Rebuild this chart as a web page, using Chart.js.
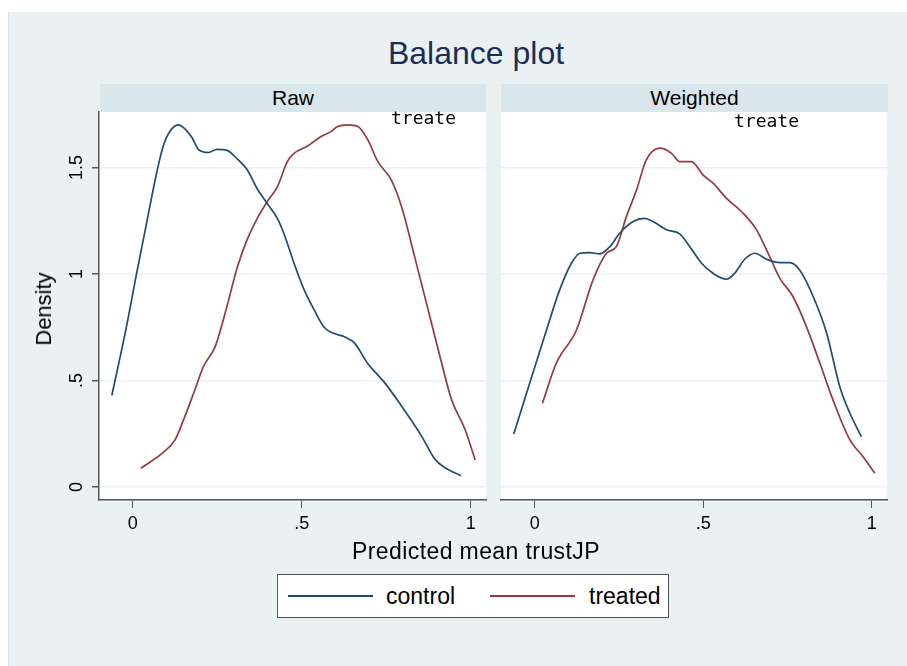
<!DOCTYPE html>
<html>
<head>
<meta charset="utf-8">
<script src="https://cdn.jsdelivr.net/npm/chart.js@4.4.0/dist/chart.umd.min.js"></script>
<style>
    body { margin: 0; background: #fff; font-family: "Liberation Sans", Arial, sans-serif; }
    #page { position: absolute; left: 8px; top: 12px; width: 899px; height: 654px; background: #e9f1f3; border-left: 1px solid #d3e2ec; }
    .abs { position: absolute; }
    #title { left: 0; top: 35px; width: 952px; text-align: center; font-size: 32px; color: #1c2e57; }
    .strip { top: 84px; height: 28px; background: #d9e6eb; text-align: center; font-size: 21px; line-height: 28px; color: #000; }
    .note { font-family: "DejaVu Sans Mono", monospace; font-size: 18px; color: #000; }
    #ytitle { left: 44px; top: 309px; font-size: 22px; transform: translate(-50%, -50%) rotate(-90deg); white-space: nowrap; }
    #xtitle { left: 0; top: 538px; width: 952px; text-align: center; font-size: 23px; letter-spacing: 0.4px; }
    #legend { left: 277px; top: 574px; width: 390px; height: 42px; background: #fff; border: 1px solid #555; }
    .lgline { position: absolute; top: 20px; height: 2px; width: 85px; }
    .lgtext { position: absolute; top: 8px; font-size: 23px; }
</style>
</head>
<body>
<div id="page"></div>
<div id="title" class="abs">Balance plot</div>
<div class="abs strip" style="left:100px;width:386px;">Raw</div>
<div class="abs strip" style="left:501px;width:387px;">Weighted</div>
<canvas id="raw" class="abs" width="495" height="440" style="left:0;top:100px;"></canvas>
<canvas id="wt" class="abs" width="412" height="440" style="left:495px;top:100px;"></canvas>
<div class="abs note" style="left:391px;top:107px;">treate</div>
<div class="abs note" style="left:734px;top:110px;">treate</div>
<div id="ytitle" class="abs">Density</div>
<div id="xtitle" class="abs">Predicted mean trustJP</div>
<div id="legend" class="abs">
    <div class="lgline" id="lg1" style="left:10px;"></div>
    <div class="lgtext" style="left:108px;">control</div>
    <div class="lgline" id="lg2" style="left:212px;"></div>
    <div class="lgtext" style="left:311px;">treated</div>
</div>
<script>
// density curves
var rawControlX = [-0.062, -0.019, 0.011, 0.041, 0.070, 0.090, 0.110, 0.135, 0.155, 0.175, 0.194, 0.224, 0.249, 0.279, 0.309, 0.338, 0.368, 0.398, 0.428, 0.447, 0.477, 0.507, 0.537, 0.566, 0.596, 0.626, 0.656, 0.695, 0.745, 0.795, 0.854, 0.894, 0.924, 0.971];
var rawControlY = [0.43, 0.75, 1.00, 1.24, 1.47, 1.60, 1.67, 1.70, 1.68, 1.64, 1.585, 1.57, 1.585, 1.58, 1.54, 1.49, 1.40, 1.33, 1.26, 1.19, 1.05, 0.925, 0.83, 0.75, 0.72, 0.705, 0.675, 0.58, 0.49, 0.38, 0.24, 0.13, 0.09, 0.053];

var rawTreatedX = [0.024, 0.090, 0.125, 0.150, 0.180, 0.209, 0.244, 0.279, 0.309, 0.338, 0.368, 0.398, 0.428, 0.457, 0.477, 0.517, 0.557, 0.586, 0.606, 0.636, 0.666, 0.695, 0.725, 0.765, 0.795, 0.834, 0.874, 0.914, 0.943, 0.983, 1.013];
var rawTreatedY = [0.088, 0.163, 0.221, 0.315, 0.44, 0.565, 0.66, 0.85, 1.03, 1.16, 1.26, 1.34, 1.41, 1.527, 1.566, 1.60, 1.645, 1.668, 1.692, 1.70, 1.692, 1.63, 1.527, 1.44, 1.316, 1.08, 0.83, 0.58, 0.41, 0.27, 0.127];

var wtControlX = [-0.062, -0.015, 0.035, 0.074, 0.109, 0.134, 0.163, 0.193, 0.223, 0.252, 0.292, 0.326, 0.351, 0.391, 0.430, 0.460, 0.495, 0.529, 0.569, 0.593, 0.623, 0.653, 0.688, 0.727, 0.757, 0.786, 0.826, 0.866, 0.905, 0.935, 0.969];
var wtControlY = [0.249, 0.487, 0.737, 0.925, 1.05, 1.097, 1.10, 1.094, 1.128, 1.191, 1.246, 1.261, 1.246, 1.207, 1.188, 1.128, 1.05, 1.003, 0.975, 1.003, 1.069, 1.097, 1.069, 1.053, 1.053, 1.019, 0.894, 0.722, 0.471, 0.346, 0.236];

var wtTreatedX = [0.023, 0.064, 0.124, 0.173, 0.213, 0.242, 0.272, 0.302, 0.331, 0.371, 0.406, 0.430, 0.465, 0.499, 0.529, 0.569, 0.618, 0.658, 0.697, 0.727, 0.766, 0.806, 0.846, 0.885, 0.935, 0.974, 1.009];
var wtTreatedY = [0.393, 0.581, 0.737, 0.972, 1.097, 1.128, 1.269, 1.394, 1.535, 1.590, 1.566, 1.527, 1.527, 1.465, 1.426, 1.355, 1.285, 1.207, 1.081, 0.98, 0.894, 0.753, 0.581, 0.408, 0.221, 0.142, 0.064];

var xTickVals = [0, 0.5, 1];
var xTickLabels = ['0', '.5', '1'];
var yTickVals = [0, 0.5, 1, 1.5];
var yTickLabels = ['0', '.5', '1', '1.5'];

var colControl = '#1f4b75';
var colTreated = '#97393e';
var fontFam = '"Liberation Sans", Arial, sans-serif';

document.getElementById('lg1').style.background = colControl;
document.getElementById('lg2').style.background = colTreated;

function pts(xs, ys) {
    var out = [];
    for (var i = 0; i < xs.length; i++) {
        out.push({x: xs[i], y: ys[i]});
    }
    return out;
}

var whiteArea = {
    id: 'whiteArea',
    beforeDraw: function (chart) {
        var a = chart.chartArea;
        var ctx = chart.ctx;
        ctx.save();
        ctx.fillStyle = '#fff';
        ctx.fillRect(a.left, a.top, a.right - a.left, a.bottom - a.top);
        ctx.restore();
    }
};

// stata draws the y labels turned on their side
var yLabels = {
    id: 'yLabels',
    afterDraw: function (chart) {
        if (!chart.options.showYLabels) return;
        var ctx = chart.ctx;
        var sc = chart.scales.y;
        ctx.save();
        ctx.fillStyle = '#000';
        ctx.font = '18px ' + fontFam;
        ctx.textAlign = 'center';
        ctx.textBaseline = 'middle';
        for (var i = 0; i < yTickVals.length; i++) {
            var py = sc.getPixelForValue(yTickVals[i]);
            ctx.save();
            ctx.translate(77, py);
            ctx.rotate(-Math.PI / 2);
            ctx.fillText(yTickLabels[i], 0, 0);
            ctx.restore();
        }
        ctx.restore();
    }
};

function makePanel(id, ctlX, ctlY, trtX, trtY, left) {
    var ctx = document.getElementById(id);
    return new Chart(ctx, {
        type: 'line',
        data: {
            datasets: [
                {
                    label: 'control',
                    data: pts(ctlX, ctlY),
                    borderColor: colControl,
                    borderWidth: 1.7,
                    pointRadius: 0,
                    cubicInterpolationMode: 'monotone',
                    fill: false
                },
                {
                    label: 'treated',
                    data: pts(trtX, trtY),
                    borderColor: colTreated,
                    borderWidth: 1.7,
                    pointRadius: 0,
                    cubicInterpolationMode: 'monotone',
                    fill: false
                }
            ]
        },
        options: {
            responsive: false,
            animation: false,
            devicePixelRatio: 1,
            showYLabels: left,
            layout: {padding: {top: 12, right: left ? 9 : 20, left: 0, bottom: 0}},
            plugins: {legend: {display: false}, tooltip: {enabled: false}},
            scales: {
                x: {
                    type: 'linear',
                    min: -0.1,
                    max: 1.045,
                    afterBuildTicks: function (s) {
                        s.ticks = xTickVals.map(function (v) { return {value: v}; });
                    },
                    afterFit: function (s) { s.height = 40; },
                    grid: {drawOnChartArea: false, drawTicks: true, tickLength: 8, tickColor: '#555'},
                    border: {color: '#555', width: 1.5},
                    ticks: {
                        color: '#000',
                        font: {size: 18, family: fontFam},
                        padding: 5,
                        maxRotation: 0,
                        callback: function (v) {
                            var k = xTickVals.indexOf(v);
                            return k >= 0 ? xTickLabels[k] : '';
                        }
                    }
                },
                y: {
                    type: 'linear',
                    min: -0.061,
                    max: 1.76,
                    afterBuildTicks: function (s) {
                        s.ticks = yTickVals.map(function (v) { return {value: v}; });
                    },
                    afterFit: function (s) { s.width = left ? 99 : 6; },
                    grid: {
                        color: '#eaf2f3',
                        lineWidth: 1.5,
                        drawTicks: left,
                        tickLength: 7,
                        tickColor: '#555'
                    },
                    border: {display: left, color: '#555', width: 1.5},
                    ticks: {display: false}
                }
            }
        },
        plugins: [whiteArea, yLabels]
    });
}

makePanel('raw', rawControlX, rawControlY, rawTreatedX, rawTreatedY, true);
makePanel('wt', wtControlX, wtControlY, wtTreatedX, wtTreatedY, false);
</script>
</body>
</html>
